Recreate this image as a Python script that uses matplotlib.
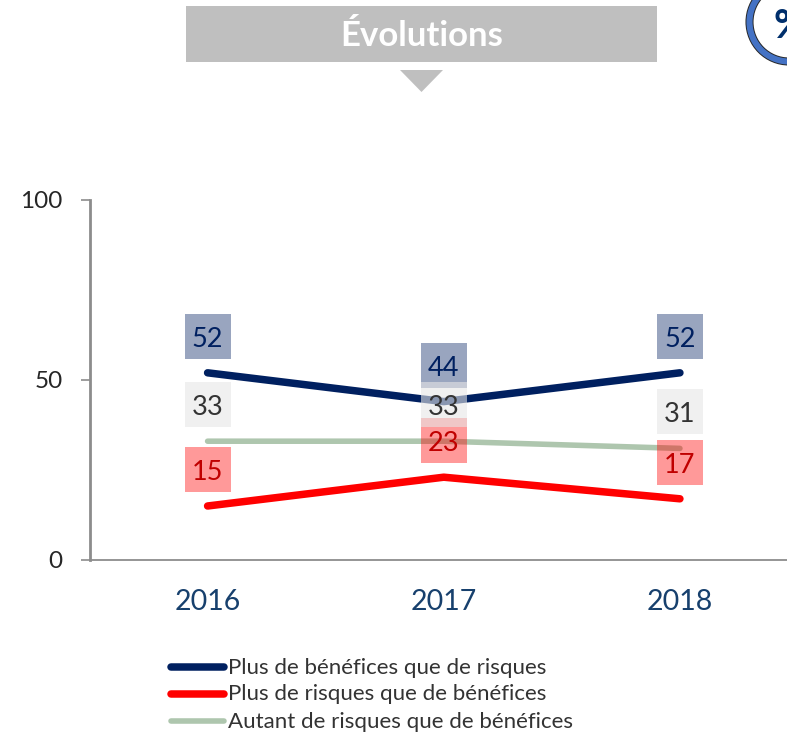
import matplotlib
matplotlib.use('Agg')
import matplotlib.pyplot as plt
from matplotlib.patches import Rectangle, Polygon, Circle
from matplotlib.transforms import IdentityTransform

plt.rcParams['font.family'] = ['Lato', 'DejaVu Sans']

W, H = 787, 739

years = ['2016', '2017', '2018']
benefices = [52, 44, 52]
risques = [15, 23, 17]
autant = [33, 33, 31]
yticks = [0, 50, 100]
series_names = ['Plus de bénéfices que de risques',
                'Plus de risques que de bénéfices',
                'Autant de risques que de bénéfices']

navy = '#002060'
red = '#FF0000'
green = '#AEC6AE'

fig = plt.figure(figsize=(W / 100, H / 100), dpi=100)

# axes run off the right edge in the original
ax = fig.add_axes([89.5 / W, (H - 560) / H, (W - 89.5) / W, 360 / H])
ax.patch.set_alpha(0)
x = list(range(len(years)))
ax.plot(x, benefices, color=navy, lw=5.4, solid_capstyle='round', zorder=2)
ax.plot(x, risques, color=red, lw=5.4, solid_capstyle='round', zorder=2)
ax.plot(x, autant, color=green, lw=4, solid_capstyle='round', zorder=2)
ax.set_xlim(-0.5, (W - 208) / 236)
ax.set_ylim(0, 100)
ax.set_xticks(x)
ax.set_xticklabels(years, fontsize=20.5, color='#17406D')
ax.set_yticks(yticks)
ax.tick_params(axis='y', labelsize=17.5, labelcolor='#262626', length=6.5, width=1.2,
               color='#8C8C8C', pad=13)
ax.tick_params(axis='x', length=0, pad=21)
for s in ['top', 'right']:
    ax.spines[s].set_visible(False)
ax.spines['left'].set_color('#8C8C8C')
ax.spines['left'].set_linewidth(2)
ax.spines['bottom'].set_color('#8C8C8C')
ax.spines['bottom'].set_linewidth(1.3)
for lab in ax.get_yticklabels():
    lab.set_y(lab.get_position()[1])


def boxes(vals, box_color, alpha, txt_color, z):
    # labels sit a fixed pixel distance above their point
    for i, v in enumerate(vals):
        xc, yc = ax.transData.transform((i, v))
        yc += 36.5
        r = Rectangle((xc - 23, yc - 22.5), 46, 45, transform=IdentityTransform(),
                      facecolor=box_color, alpha=alpha, edgecolor='none', zorder=z)
        ax.add_patch(r)
        ax.text(xc, yc - 3, str(v), transform=IdentityTransform(), color=txt_color,
                fontsize=19.5, ha='center', va='center', zorder=6)


boxes(benefices, navy, 0.4, navy, 3)
boxes(risques, red, 0.4, '#C00000', 4)
boxes(autant, '#E6E6E6', 0.6, '#333333', 5)

# header
fig.patches.append(Rectangle((186 / W, 1 - 62 / H), 471 / W, 56 / H, transform=fig.transFigure,
                             facecolor='#BFBFBF', edgecolor='none'))
fig.patches.append(Polygon([(400 / W, 1 - 70 / H), (443 / W, 1 - 70 / H), (421.5 / W, 1 - 92 / H)],
                           transform=fig.transFigure, facecolor='#BFBFBF', edgecolor='none'))
fig.text(421.5 / W, 1 - 35.5 / H, 'Évolutions', color='white', fontsize=25, fontweight='bold',
         ha='center', va='center')

# % badge, cut off by the corner
bx, by = 789, H - 22
fig.patches.append(Circle((bx, by), 39.5, transform=IdentityTransform(), facecolor='white',
                          edgecolor='#262626', lw=5.8))
fig.patches.append(Circle((bx, by), 39.5, transform=IdentityTransform(), facecolor='none',
                          edgecolor='#4472C4', lw=4.4))
fig.text(773.5 / W, 1 - 27 / H, '%', color='#002F6C', fontsize=29, fontweight='bold',
         ha='left', va='center')

# legend by hand so it lines up with the original
leg_y = [667, 694, 721]
leg_col = [navy, red, green]
leg_lw = [5.4, 5.4, 4]
for name, yy, c, lw in zip(series_names, leg_y, leg_col, leg_lw):
    fig.add_artist(plt.Line2D([171 / W, 224 / W], [1 - yy / H, 1 - yy / H], color=c, lw=lw,
                              solid_capstyle='round'))
    fig.text(228 / W, 1 - (yy + 0.5) / H, name, color='#333333', fontsize=16, ha='left', va='center')

fig.savefig('out.png', dpi=100)
